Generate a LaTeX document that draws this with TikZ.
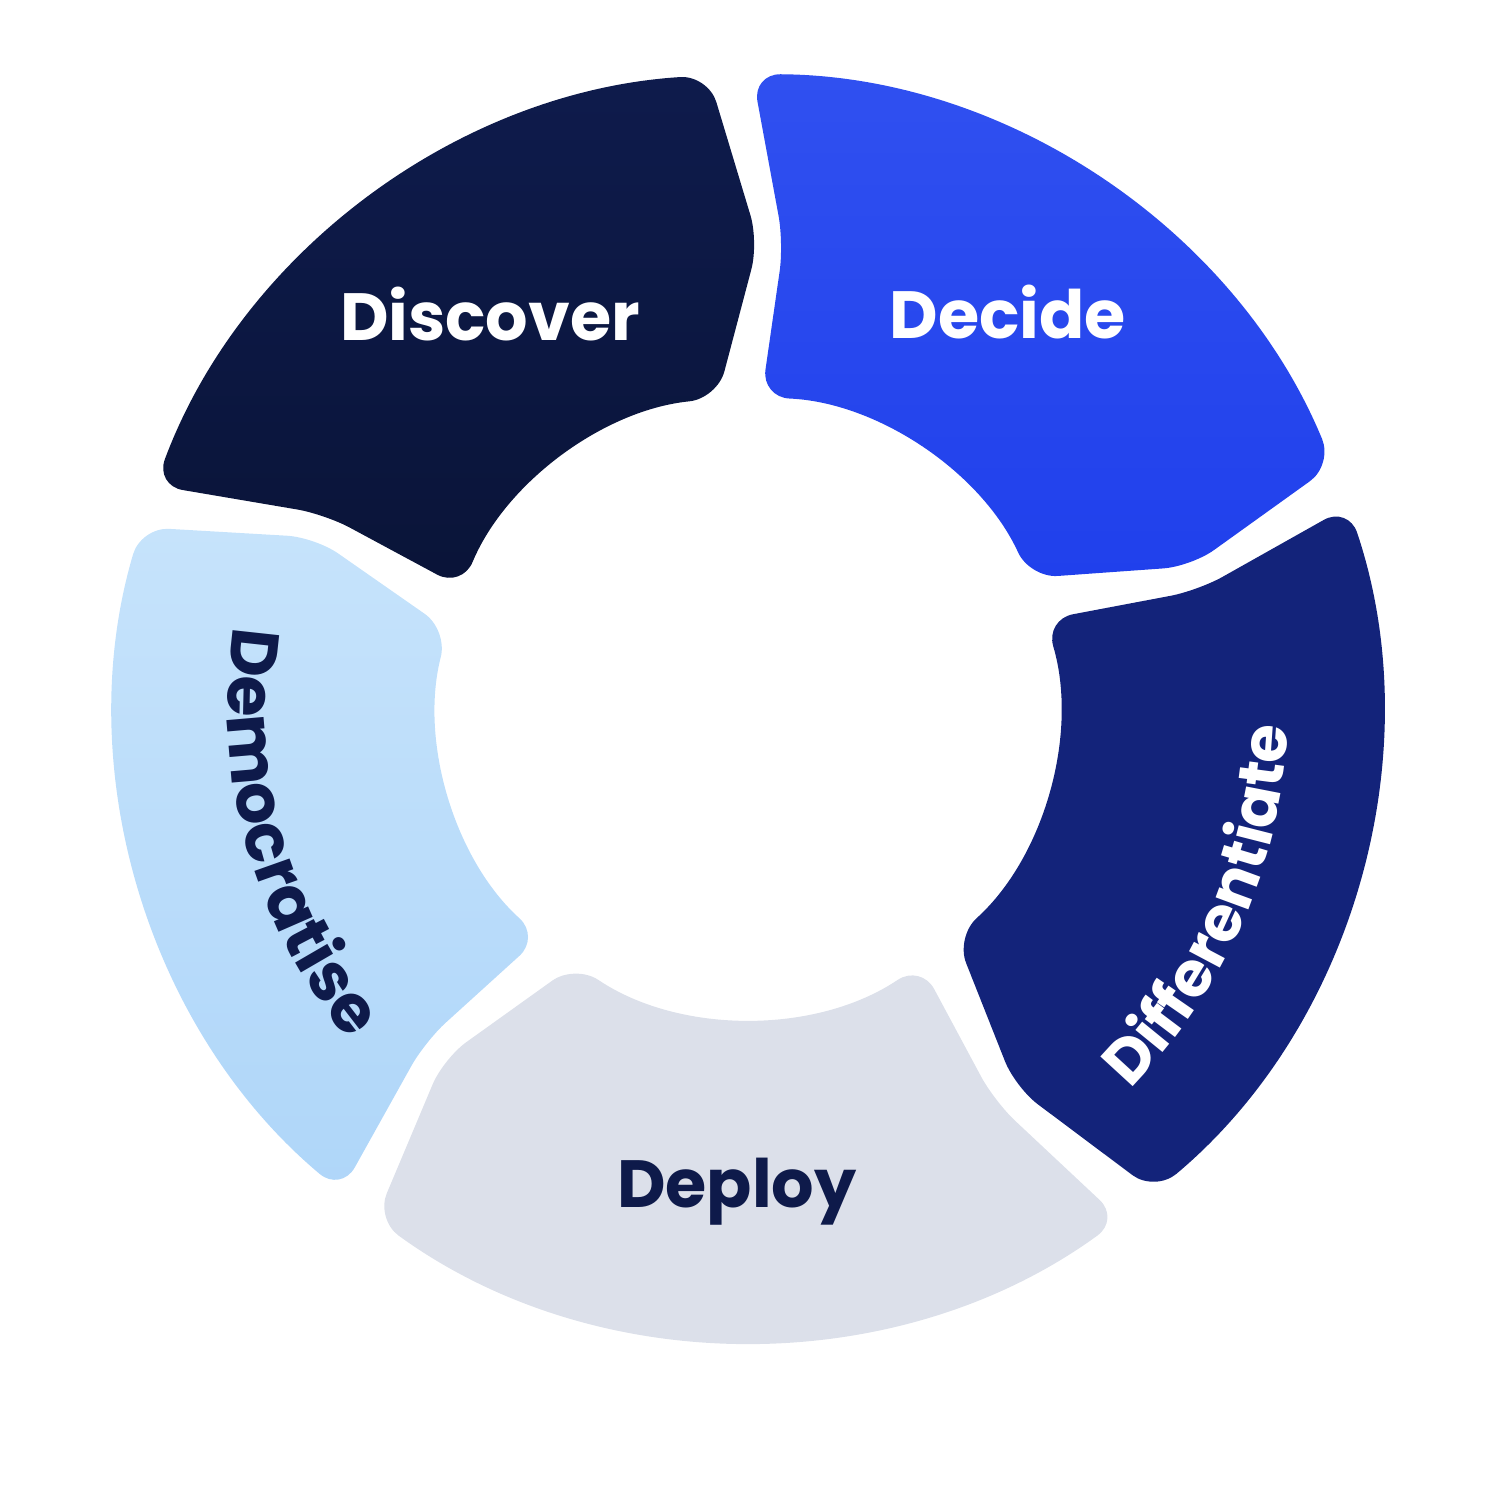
\documentclass[tikz,border=0pt]{standalone}
\usepackage{fontspec}
\setmainfont{Poppins}
\usetikzlibrary{decorations.text}
\definecolor{cDiscTop}{HTML}{0E1B4C}
\definecolor{cDiscBot}{HTML}{0A1438}
\definecolor{cDecTop}{HTML}{3050F0}
\definecolor{cDecBot}{HTML}{2040EC}
\definecolor{cDiff}{HTML}{13237A}
\definecolor{cDeploy}{HTML}{DCE0EA}
\definecolor{cDemTop}{HTML}{C6E3FB}
\definecolor{cDemBot}{HTML}{AFD6F9}
\definecolor{cInk}{HTML}{0E1A4A}
\newcommand\lblfont{\bfseries\fontsize{19}{23}\selectfont}
\newcommand\lblfontsm{\bfseries\fontsize{17.8}{22}\selectfont}
\def\Ro{6.33}
\def\Ri{3.10}
\def\Rm{4.65}
% #1 = ccw boundary angle, #2 = cw boundary angle
\newcommand\segpath[2]{(#1-2.0:\Ro) arc[start angle=#1-2.0, end angle=#2+2.0, radius=\Ro] -- (#2-2.9:\Rm) -- (#2+4.1:\Ri) arc[start angle=#2+4.1, end angle=#1-4.1, radius=\Ri] -- (#1-6.0:\Rm) -- cycle}
\tikzset{
  seg/.style={rounded corners=0.28cm},
  lbl/.style={font=\lblfont, anchor=base, inner sep=0pt}
}
\begin{document}
\begin{tikzpicture}
\useasboundingbox (-7.48,-7.93) rectangle (7.52,7.07);
% segments
\path[seg, top color=cDiscTop, bottom color=cDiscBot] \segpath{161.5}{91.6};
\path[seg, top color=cDecTop, bottom color=cDecBot] \segpath{91.6}{20.5};
\path[seg, fill=cDiff] \segpath{20.5}{-52};
\path[seg, fill=cDeploy] \segpath{-52}{-128};
\path[seg, top color=cDemTop, bottom color=cDemBot] \segpath{232}{161.5};
% labels
\node[lbl, text=white] (discover) at (-2.58,3.67) {Discover};
\node[lbl, text=white] (decide) at (2.60,3.69) {Decide};
\node[lbl, text=cInk] (deploy) at (-0.11,-5.00) {Deploy};
\path[decorate, decoration={text along path, text align=center, text color=cInk,
  text={|\lblfont|Democratise}}]
  (165:5.2) arc[start angle=165, end angle=226, radius=5.2];
\path[decorate, decoration={text along path, text align=center, text color=white,
  text={|\lblfontsm|Differentiate}}]
  (-55:5.4) arc[start angle=-55, end angle=8, radius=5.4];
\end{tikzpicture}
\end{document}
